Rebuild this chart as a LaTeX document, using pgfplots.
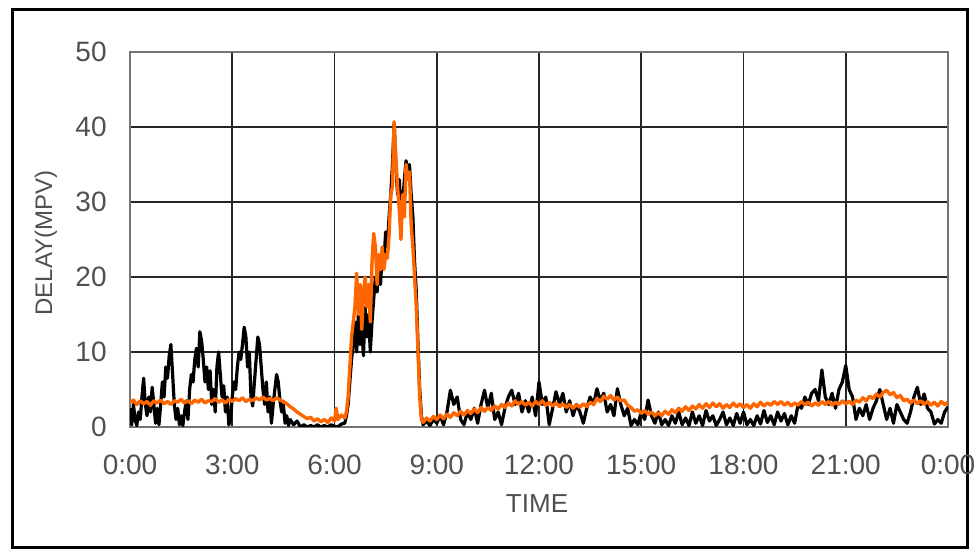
\documentclass[border=0pt]{standalone}
\usepackage{pgfplots}
\pgfplotsset{compat=1.18}
\usepackage{fontspec}
\setmainfont{Liberation Sans}
\definecolor{txt}{RGB}{80,80,80}
\definecolor{orng}{RGB}{255,102,0}
\begin{document}
\begin{tikzpicture}
\useasboundingbox (0,0) rectangle (487pt,275.5pt);
\draw[line width=1.5pt, black] (6pt,1.5pt) rectangle (483.5pt,270.5pt);
\begin{axis}[
  at={(65pt,62pt)}, anchor=south west,
  scale only axis, width=409pt, height=187.5pt,
  xmin=0, xmax=24, ymin=0, ymax=50,
  xtick={0,3,...,24},
  xticklabels={0:00,3:00,6:00,9:00,12:00,15:00,18:00,21:00,0:00},
  ytick={0,10,...,50},
  grid=major,
  major grid style={black!85, line width=0.9pt},
  axis line style={black!55, line width=0.9pt},
  tick style={draw=none},
  /pgf/number format/assume math mode=true,
  ticklabel style={font=\fontsize{14}{14}\selectfont, text=txt},
  xticklabel style={anchor=north, inner sep=0pt, yshift=-14pt},
  yticklabel style={anchor=east, inner sep=0pt, xshift=-11.5pt},
  xlabel={TIME}, ylabel={DELAY(MPV)},
  xlabel style={at={(axis description cs:0.4976,-0.2053)}, anchor=center, font=\fontsize{13}{13}\selectfont, text=txt},
  ylabel style={at={(axis description cs:-0.1027,0.4907)}, anchor=center, font=\fontsize{12}{12}\selectfont, text=txt},
]
\addplot[black, line width=1.6pt, line join=round] table {
0.0 2.5
0.05 0.3
0.1 3
0.15 1
0.2 0.2
0.25 2
0.3 1
0.35 4
0.4 6.5
0.45 3
0.5 1.5
0.55 4
0.6 2
0.65 5.3
0.7 3
0.75 0.5
0.8 2.5
0.85 0.3
0.9 3
0.95 6
1.0 4
1.05 8
1.1 6.5
1.15 9.5
1.2 11
1.25 7
1.3 3
1.35 1
1.4 2.5
1.45 0.3
1.5 1.5
1.55 0.2
1.6 2
1.65 3.5
1.7 1
1.75 5
1.8 7
1.85 6
1.9 9
1.95 10.5
2.0 8
2.05 12.7
2.1 11.5
2.15 9
2.2 6
2.25 8
2.3 5
2.35 7.5
2.4 3
2.45 5
2.5 2
2.55 8
2.6 10
2.65 7
2.7 4
2.75 5.5
2.8 2
2.85 4
2.9 0.3
2.95 1
3.0 4
3.05 6
3.1 5
3.15 8
3.2 10
3.25 9
3.3 11
3.35 13.3
3.4 12
3.45 8
3.5 10
3.55 4
3.6 2.8
3.65 6
3.7 9
3.75 12
3.8 11
3.85 8
3.9 5
3.95 3
4.0 6
4.05 2
4.1 4
4.15 0.5
4.2 3
4.25 5
4.3 7
4.35 6
4.4 3.5
4.45 2
4.5 3
4.55 0.5
4.6 1.5
4.65 0.2
4.7 1
4.8 0.3
4.9 0.8
5.0 0
5.1 0.3
5.2 0
5.3 0.2
5.4 0
5.5 0.3
5.6 0
5.7 0.2
5.8 0
5.9 0.3
6.0 0.1
6.1 0
6.2 0.4
6.3 0.5
6.35 1.5
6.4 3
6.45 6
6.5 9
6.55 11
6.6 14
6.65 10
6.7 15
6.75 11
6.8 13
6.85 9.5
6.9 16
6.95 12
7.0 15
7.05 10
7.1 14
7.15 17
7.2 20
7.25 18
7.3 21
7.35 19
7.4 23
7.45 22
7.5 26
7.55 24
7.6 28
7.65 31
7.7 35
7.75 40.5
7.8 35
7.85 31
7.9 33
7.95 29
8.0 30
8.05 33
8.1 35.5
8.15 34
8.2 35
8.25 31
8.3 28
8.35 22
8.4 18
8.45 11
8.5 5
8.55 1.5
8.6 0.3
8.7 0.8
8.8 0.2
8.9 1
9.0 0.5
9.1 1.5
9.2 0.3
9.3 2
9.4 4.9
9.5 3
9.6 4
9.7 1
9.8 0.3
9.9 2
10.0 1
10.1 2.5
10.2 0.5
10.3 3
10.4 4.9
10.5 2.5
10.6 4.5
10.7 1
10.8 2
10.9 0.3
11.0 2.5
11.1 4
11.2 4.9
11.3 3
11.4 4.5
11.5 2
11.6 3.5
11.7 2
11.8 4
11.9 1.5
12.0 6
12.1 3
12.2 4
12.3 0.3
12.4 2.5
12.5 4.7
12.6 3
12.7 4.5
12.8 2
12.9 3.5
13.0 1.5
13.1 3
13.2 2
13.3 0.5
13.4 2.5
13.5 4
13.6 3
13.7 5.1
13.8 3.5
13.9 4.5
14.0 2
14.1 3
14.2 1.5
14.3 5.1
14.4 3
14.5 1.5
14.6 2.5
14.7 0.2
14.8 1
14.9 0.3
15.0 2
15.1 1
15.2 3.6
15.3 1.5
15.4 0.5
15.5 2
15.6 0.3
15.7 1
15.8 0.2
15.9 1.5
16.0 0.5
16.1 2
16.2 0.3
16.3 1.2
16.4 0.2
16.5 2
16.6 0.5
16.7 1.5
16.8 0.2
16.9 2.2
17.0 0.8
17.1 1.5
17.2 0.2
17.3 1
17.4 2
17.5 0.3
17.6 1.2
17.7 0.2
17.8 1.8
17.9 0.5
18.0 2
18.1 0.3
18.2 1
18.3 0.2
18.4 1.5
18.5 0.4
18.6 2.2
18.7 0.6
18.8 1.5
18.9 0.3
19.0 2
19.1 0.8
19.2 1.8
19.3 0.3
19.4 1.5
19.5 0.5
19.6 3
19.7 2.5
19.8 4
19.9 3
20.0 4.5
20.1 5
20.2 3.5
20.3 7.6
20.4 4
20.5 3
20.6 4.5
20.7 2.5
20.8 5
20.9 6
21.0 8.2
21.1 5
21.2 4
21.3 1
21.4 2.5
21.5 1.5
21.6 3
21.7 1
21.8 2.5
21.9 3.5
22.0 5
22.1 3
22.2 1
22.3 2.5
22.4 0.5
22.5 3
22.6 2
22.7 1
22.8 0.5
22.9 2
23.0 4
23.1 5.3
23.2 3
23.3 4.4
23.4 2.5
23.5 2
23.6 0.4
23.7 1
23.8 0.5
23.9 2
24.0 2.7
};
\addplot[orng, line width=1.7pt, line join=round] table {
0.0 3.2
0.1 3.6
0.2 3.0
0.3 3.5
0.4 3.1
0.5 3.4
0.6 2.9
0.7 3.5
0.8 3.2
0.9 3.6
1.0 3.1
1.1 3.4
1.2 3.0
1.3 3.5
1.4 3.3
1.5 3.7
1.6 3.2
1.7 3.5
1.8 3.1
1.9 3.6
2.0 3.3
2.1 3.7
2.2 3.2
2.3 3.5
2.4 3.4
2.5 3.8
2.6 3.3
2.7 3.6
2.8 3.2
2.9 3.7
3.0 3.4
3.1 3.8
3.2 3.5
3.3 3.9
3.4 3.4
3.5 3.7
3.6 3.5
3.7 3.9
3.8 3.6
3.9 4.0
4.0 3.6
4.1 3.8
4.2 3.5
4.3 3.9
4.4 3.6
4.5 3.4
4.6 3.1
4.7 2.7
4.8 2.4
4.9 2.0
5.0 1.7
5.1 1.4
5.2 1.1
5.3 1.3
5.4 0.8
5.5 1.1
5.6 0.7
5.7 1.0
5.8 0.6
5.9 1.2
6.0 0.8
6.05 2.5
6.1 1.0
6.2 1.6
6.3 1.2
6.35 2
6.4 4
6.45 8
6.5 12
6.55 14
6.6 16
6.65 20.5
6.7 15
6.75 19
6.8 13
6.85 18
6.9 20
6.95 16
7.0 19
7.05 14
7.1 22
7.15 25.8
7.2 24
7.25 19
7.3 23
7.35 21
7.4 24
7.45 21
7.5 23
7.55 22.5
7.6 25.5
7.65 31
7.7 32
7.75 40.7
7.8 36
7.85 32
7.9 29
7.95 25
8.0 31
8.05 28
8.1 35
8.15 33
8.2 34
8.25 27
8.3 24
8.35 20
8.4 16
8.45 10
8.5 4
8.55 1
8.6 0.6
8.7 1.2
8.8 0.8
8.9 1.4
9.0 1.0
9.1 1.6
9.2 1.1
9.3 1.7
9.4 1.3
9.5 1.9
9.6 1.5
9.7 2.1
9.8 1.6
9.9 2.2
10.0 1.8
10.1 2.4
10.2 1.9
10.3 2.6
10.4 2.1
10.5 2.6
10.6 2.2
10.7 2.8
10.8 2.4
10.9 3.0
11.0 2.6
11.1 3.2
11.2 2.8
11.3 3.5
11.4 3.0
11.5 3.4
11.6 2.9
11.7 3.3
11.8 2.8
11.9 3.4
12.0 3.0
12.1 3.5
12.2 2.9
12.3 3.3
12.4 2.8
12.5 3.2
12.6 2.7
12.7 3.1
12.8 2.6
12.9 3.0
13.0 2.5
13.1 3.0
13.2 2.6
13.3 3.1
13.4 2.7
13.5 3.3
13.6 3.0
13.7 3.8
13.8 3.4
13.9 4.1
14.0 3.7
14.1 4.2
14.2 3.6
14.3 4.0
14.4 3.5
14.5 3.6
14.6 2.9
14.7 2.6
14.8 2.1
14.9 2.3
15.0 1.8
15.1 2.2
15.2 1.7
15.3 2.0
15.4 1.5
15.5 1.9
15.6 1.5
15.7 2.1
15.8 1.7
15.9 2.3
16.0 1.9
16.1 2.5
16.2 2.1
16.3 2.7
16.4 2.2
16.5 2.8
16.6 2.4
16.7 3.0
16.8 2.5
16.9 3.1
17.0 2.6
17.1 3.2
17.2 2.7
17.3 3.1
17.4 2.5
17.5 3.0
17.6 2.6
17.7 3.2
17.8 2.7
17.9 3.1
18.0 2.6
18.1 3.0
18.2 2.5
18.3 3.1
18.4 2.7
18.5 3.3
18.6 2.8
18.7 3.2
18.8 2.9
18.9 3.4
19.0 3.0
19.1 3.4
19.2 2.9
19.3 3.3
19.4 2.8
19.5 3.2
19.6 2.9
19.7 3.4
19.8 3.0
19.9 3.3
20.0 2.8
20.1 3.2
20.2 2.9
20.3 3.4
20.4 3.0
20.5 3.4
20.6 2.9
20.7 3.3
20.8 3.0
20.9 3.5
21.0 3.1
21.1 3.4
21.2 3.0
21.3 3.6
21.4 3.3
21.5 3.9
21.6 3.5
21.7 4.1
21.8 3.8
21.9 4.4
22.0 4.0
22.1 4.6
22.2 4.9
22.3 4.3
22.4 4.6
22.5 3.9
22.6 4.2
22.7 3.5
22.8 3.7
22.9 3.2
23.0 3.6
23.1 3.1
23.2 3.5
23.3 3.0
23.4 3.4
23.5 2.9
23.6 3.3
23.7 2.8
23.8 3.4
23.9 3.0
24.0 3.3
};
\end{axis}
\end{tikzpicture}
\end{document}
